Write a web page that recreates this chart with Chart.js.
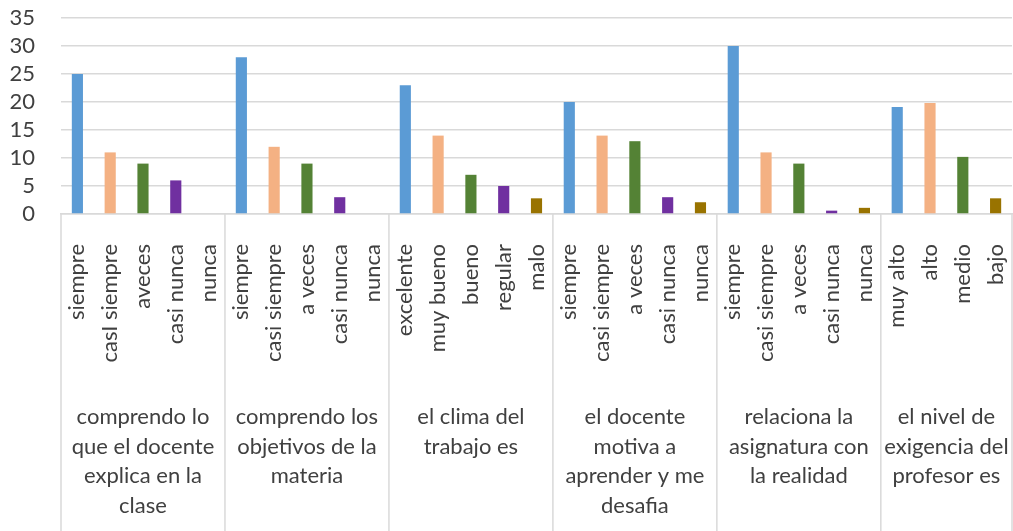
<!DOCTYPE html>
<html>
<head>
<meta charset="utf-8">
<script src="https://cdn.jsdelivr.net/npm/chart.js@4/dist/chart.umd.min.js"></script>
<style>
  body { margin: 0; background: #fff; }
  #wrap { width: 1013px; height: 531px; }
</style>
</head>
<body>
<div id="wrap"><canvas id="chart" width="1013" height="531"></canvas></div>
<script>
const groupNames = [
  ["comprendo lo", "que el docente", "explica en la", "clase"],
  ["comprendo los", "objetivos de la", "materia"],
  ["el clima del", "trabajo es"],
  ["el docente", "motiva a", "aprender y me", "desafia"],
  ["relaciona la", "asignatura con", "la realidad"],
  ["el nivel de", "exigencia del", "profesor es"],
];

const answerLabels = [
  ["siempre", "casI siempre", "aveces", "casi nunca", "nunca"],
  ["siempre", "casi siempre", "a veces", "casi nunca", "nunca"],
  ["excelente", "muy bueno", "bueno", "regular", "malo"],
  ["siempre", "casi siempre", "a veces", "casi nunca", "nunca"],
  ["siempre", "casi siempre", "a veces", "casi nunca", "nunca"],
  ["muy alto", "alto", "medio", "bajo"],
];

const answerValues = [
  [25, 11, 9, 6, 0],
  [28, 12, 9, 3, 0],
  [23, 14, 7, 5, 2.8],
  [20, 14, 13, 3, 2.1],
  [30, 11, 9, 0.6, 1.1],
  [19.1, 19.8, 10.2, 2.8],
];

// which colour level each answer uses (last group skips the purple one)
const answerLevels = [
  [0, 1, 2, 3, 4],
  [0, 1, 2, 3, 4],
  [0, 1, 2, 3, 4],
  [0, 1, 2, 3, 4],
  [0, 1, 2, 3, 4],
  [0, 1, 2, 4],
];

const yTicks = [0, 5, 10, 15, 20, 25, 30, 35];

const levelColors = ["#5B9BD5", "#F4B183", "#548235", "#7030A0", "#997300"];

const labels = answerLabels.flat();
const data = answerValues.flat();
const colors = answerLevels.flat().map((l) => levelColors[l]);

const FONT = "Lato, 'Noto Sans', sans-serif";
const TEXT = "#404040";
const LINE = "#d9d9d9";

const groupAxis = {
  id: "groupAxis",
  afterDraw(chart) {
    const { ctx, chartArea, scales } = chart;
    const x = scales.x;
    const total = labels.length;
    ctx.save();
    ctx.strokeStyle = LINE;
    ctx.lineWidth = 1.5;
    ctx.fillStyle = TEXT;
    ctx.font = "22px " + FONT;
    ctx.textAlign = "center";
    ctx.textBaseline = "middle";

    const edge = (i) => {
      if (i === 0) return chartArea.left;
      if (i === total) return chartArea.right;
      return (x.getPixelForValue(i - 1) + x.getPixelForValue(i)) / 2;
    };

    let start = 0;
    groupNames.forEach((lines, g) => {
      const end = start + answerLabels[g].length;
      const left = edge(start);
      const right = edge(end);
      ctx.beginPath();
      ctx.moveTo(left, chartArea.bottom);
      ctx.lineTo(left, chart.height);
      ctx.stroke();
      lines.forEach((t, k) => {
        ctx.fillText(t, (left + right) / 2, chartArea.bottom + 203 + k * 29.7);
      });
      start = end;
    });
    const r = edge(total);
    ctx.beginPath();
    ctx.moveTo(r, chartArea.bottom);
    ctx.lineTo(r, chart.height);
    ctx.stroke();
    ctx.restore();
  },
};

new Chart(document.getElementById("chart"), {
  type: "bar",
  data: {
    labels,
    datasets: [
      {
        data,
        backgroundColor: colors,
        barPercentage: 0.34,
        categoryPercentage: 1,
      },
    ],
  },
  options: {
    responsive: false,
    animation: false,
    layout: { padding: { top: 18, right: 1 } },
    plugins: { legend: { display: false }, tooltip: { enabled: false } },
    scales: {
      x: {
        grid: { display: false },
        border: { color: LINE, width: 1.5 },
        ticks: {
          minRotation: 90,
          maxRotation: 90,
          autoSkip: false,
          padding: 22,
          color: TEXT,
          font: { family: FONT, size: 22 },
        },
        afterFit: (scale) => {
          scale.height = 317;
          scale.paddingLeft = 0;
          scale.paddingRight = 0;
        },
      },
      y: {
        min: 0,
        max: 35,
        afterBuildTicks: (scale) => {
          scale.ticks = yTicks.map((v) => ({ value: v }));
        },
        grid: { color: LINE, lineWidth: 1.5, drawTicks: false },
        border: { display: false },
        ticks: {
          autoSkip: false,
          padding: 26,
          color: TEXT,
          font: { family: FONT, size: 22 },
        },
        afterFit: (scale) => {
          scale.width = 61;
          scale.paddingTop = 0;
          scale.paddingBottom = 0;
        },
      },
    },
  },
  plugins: [groupAxis],
});
</script>
</body>
</html>
